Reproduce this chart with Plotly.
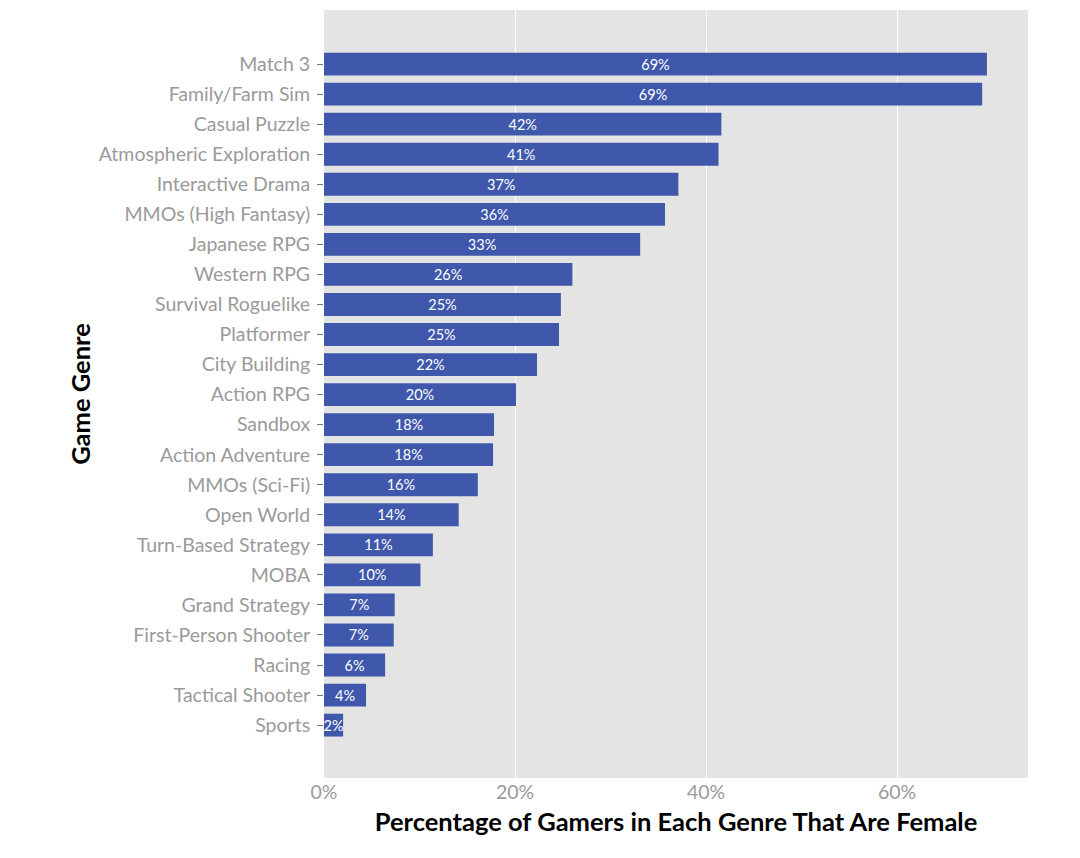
import plotly.graph_objects as go

genres = ["Match 3", "Family/Farm Sim", "Casual Puzzle", "Atmospheric Exploration",
          "Interactive Drama", "MMOs (High Fantasy)", "Japanese RPG", "Western RPG",
          "Survival Roguelike", "Platformer", "City Building", "Action RPG", "Sandbox",
          "Action Adventure", "MMOs (Sci-Fi)", "Open World", "Turn-Based Strategy",
          "MOBA", "Grand Strategy", "First-Person Shooter", "Racing", "Tactical Shooter",
          "Sports"]
female_pct = [69.4, 68.9, 41.6, 41.3, 37.1, 35.7, 33.1, 26.0, 24.8, 24.6, 22.3, 20.1,
              17.8, 17.7, 16.1, 14.1, 11.4, 10.1, 7.4, 7.3, 6.4, 4.4, 2.0]
x_ticks = [0, 20, 40, 60]
x_tick_labels = ["0%", "20%", "40%", "60%"]

# plot bottom-to-top
g = genres[::-1]
v = female_pct[::-1]

fig = go.Figure()
fig.add_trace(go.Bar(
    y=g, x=v, orientation="h",
    marker=dict(color="#3F58AB", line=dict(width=0)),
    width=0.76,
    text=[f"{val:.0f}%" for val in v],
    textposition="inside", insidetextanchor="middle", textangle=0,
    textfont=dict(family="Lato", size=14.5, color="white"),
    constraintext="none",
    cliponaxis=False,
))

fig.update_layout(
    width=1080, height=858,
    margin=dict(l=316, r=60, t=2, b=88),
    paper_bgcolor="white", plot_bgcolor="#E4E4E4",
    showlegend=False,
    uniformtext=dict(minsize=14.5, mode="show"),
    font=dict(family="Lato"),
)
fig.update_xaxes(
    range=[0, 73.7],
    tickvals=x_ticks, ticktext=x_tick_labels,
    tickfont=dict(family="Lato", size=19.5, color="#9A9A9A"),
    showgrid=True, gridcolor="white", gridwidth=1.2,
    zeroline=False, showline=False, ticks="",
    title=dict(text="<b>Percentage of Gamers in Each Genre That Are Female</b>",
               font=dict(family="Lato", size=25.5, color="black"), standoff=11),
)
fig.update_yaxes(
    categoryorder="array", categoryarray=g,
    range=[-1.76, 23.8],
    tickfont=dict(family="Lato", size=19.5, color="#9A9A9A"),
    ticks="outside", ticklen=6, tickcolor="#777777", tickwidth=1,
    ticklabelstandoff=3,
    showgrid=False, zeroline=False, showline=False,
    title=dict(text="<b>Game Genre</b>",
               font=dict(family="Lato", size=25.5, color="black"), standoff=0),
)

fig.write_html("out.html")
